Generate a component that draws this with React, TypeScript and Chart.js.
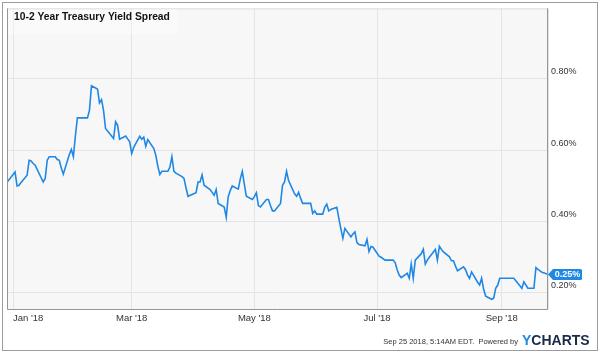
import { useEffect, useRef } from "react";
import { Chart, registerables } from "chart.js";
Chart.register(...registerables);

const dates = [
  "2017-12-29","2018-01-02","2018-01-03","2018-01-04","2018-01-05","2018-01-08","2018-01-09","2018-01-10","2018-01-11","2018-01-12",
  "2018-01-16","2018-01-17","2018-01-18","2018-01-19","2018-01-22","2018-01-23","2018-01-24","2018-01-25","2018-01-26","2018-01-29",
  "2018-01-30","2018-01-31","2018-02-01","2018-02-02","2018-02-05","2018-02-06","2018-02-07","2018-02-08","2018-02-09","2018-02-12",
  "2018-02-13","2018-02-14","2018-02-15","2018-02-16","2018-02-20","2018-02-21","2018-02-22","2018-02-23","2018-02-26","2018-02-27",
  "2018-02-28","2018-03-01","2018-03-02","2018-03-05","2018-03-06","2018-03-07","2018-03-08","2018-03-09","2018-03-12","2018-03-13",
  "2018-03-14","2018-03-15","2018-03-16","2018-03-19","2018-03-20","2018-03-21","2018-03-22","2018-03-23","2018-03-26","2018-03-27",
  "2018-03-28","2018-03-29","2018-04-02","2018-04-03","2018-04-04","2018-04-05","2018-04-06","2018-04-09","2018-04-10","2018-04-11",
  "2018-04-12","2018-04-13","2018-04-16","2018-04-17","2018-04-18","2018-04-19","2018-04-20","2018-04-23","2018-04-24","2018-04-25",
  "2018-04-26","2018-04-27","2018-04-30","2018-05-01","2018-05-02","2018-05-03","2018-05-04","2018-05-07","2018-05-08","2018-05-09",
  "2018-05-10","2018-05-11","2018-05-14","2018-05-15","2018-05-16","2018-05-17","2018-05-18","2018-05-21","2018-05-22","2018-05-23",
  "2018-05-24","2018-05-25","2018-05-29","2018-05-30","2018-05-31","2018-06-01","2018-06-04","2018-06-05","2018-06-06","2018-06-07",
  "2018-06-08","2018-06-11","2018-06-12","2018-06-13","2018-06-14","2018-06-15","2018-06-18","2018-06-19","2018-06-20","2018-06-21",
  "2018-06-22","2018-06-25","2018-06-26","2018-06-27","2018-06-28","2018-06-29","2018-07-02","2018-07-03","2018-07-05","2018-07-06",
  "2018-07-09","2018-07-10","2018-07-11","2018-07-12","2018-07-13","2018-07-16","2018-07-17","2018-07-18","2018-07-19","2018-07-20",
  "2018-07-23","2018-07-24","2018-07-25","2018-07-26","2018-07-27","2018-07-30","2018-07-31","2018-08-01","2018-08-02","2018-08-03",
  "2018-08-06","2018-08-07","2018-08-08","2018-08-09","2018-08-10","2018-08-13","2018-08-14","2018-08-15","2018-08-16","2018-08-17",
  "2018-08-20","2018-08-21","2018-08-22","2018-08-23","2018-08-24","2018-08-27","2018-08-28","2018-08-29","2018-08-30","2018-08-31",
  "2018-09-04","2018-09-05","2018-09-06","2018-09-07","2018-09-10","2018-09-11","2018-09-12","2018-09-13","2018-09-14","2018-09-17",
  "2018-09-18","2018-09-19","2018-09-20","2018-09-21","2018-09-24",
];

const values = [
  0.51, 0.539, 0.5, 0.502, 0.51, 0.53, 0.572, 0.57, 0.563, 0.558,
  0.511, 0.521, 0.572, 0.582, 0.582, 0.574, 0.572, 0.55, 0.533, 0.588,
  0.602, 0.582, 0.64, 0.691, 0.691, 0.691, 0.691, 0.712, 0.781, 0.772,
  0.733, 0.742, 0.712, 0.661, 0.633, 0.68, 0.67, 0.631, 0.64, 0.632,
  0.624, 0.591, 0.608, 0.639, 0.631, 0.637, 0.611, 0.63, 0.605, 0.586,
  0.555, 0.532, 0.541, 0.541, 0.553, 0.582, 0.541, 0.536, 0.526, 0.521,
  0.495, 0.471, 0.481, 0.511, 0.511, 0.531, 0.502, 0.49, 0.482, 0.474,
  0.49, 0.451, 0.441, 0.412, 0.47, 0.487, 0.5, 0.491, 0.52, 0.541,
  0.505, 0.471, 0.462, 0.47, 0.481, 0.445, 0.441, 0.462, 0.462, 0.445,
  0.43, 0.43, 0.451, 0.502, 0.511, 0.541, 0.515, 0.478, 0.471, 0.482,
  0.465, 0.451, 0.451, 0.423, 0.43, 0.421, 0.421, 0.44, 0.449, 0.43,
  0.434, 0.44, 0.409, 0.38, 0.353, 0.381, 0.357, 0.365, 0.371, 0.341,
  0.336, 0.332, 0.35, 0.316, 0.33, 0.328, 0.303, 0.3, 0.292, 0.292,
  0.292, 0.285, 0.265, 0.25, 0.243, 0.255, 0.241, 0.281, 0.241, 0.292,
  0.31, 0.322, 0.281, 0.292, 0.3, 0.322, 0.292, 0.331, 0.322, 0.315,
  0.301, 0.29, 0.29, 0.275, 0.262, 0.273, 0.265, 0.25, 0.241, 0.259,
  0.23, 0.222, 0.241, 0.21, 0.191, 0.182, 0.185, 0.213, 0.222, 0.241,
  0.241, 0.241, 0.241, 0.241, 0.22, 0.213, 0.231, 0.222, 0.213, 0.213,
  0.271, 0.266, 0.262, 0.258, 0.252,
];

const xTickDates = ["2018-01-01", "2018-03-01", "2018-05-01", "2018-07-01", "2018-09-01"];
const xTickLabels = ["Jan '18", "Mar '18", "May '18", "Jul '18", "Sep '18"];
const yTickValues = [0.2, 0.4, 0.6, 0.8];
const xMinDate = "2017-12-29";
const xMaxDate = "2018-09-24";
const yMin = 0.152;
const yMax = 0.998;
const titleText = "10-2 Year Treasury Yield Spread";
const footerText = "Sep 25 2018, 5:14AM EDT.  Powered by";

const DAY = 86400000;
const BASE = Date.parse("2018-01-01");
const dayOf = (s: string) => (Date.parse(s) - BASE) / DAY;

const FONT = '"Liberation Sans", Arial, Helvetica, sans-serif';
const LINE_COLOR = "#1f88e5";

export default function App() {
  const ref = useRef<HTMLCanvasElement | null>(null);

  useEffect(() => {
    if (!ref.current) return;
    const xMin = dayOf(xMinDate);
    const xMax = dayOf(xMaxDate);
    const tickDays = xTickDates.map(dayOf);

    const backdrop = {
      id: "backdrop",
      beforeDraw(chart: any) {
        const { ctx, chartArea: a, width, height } = chart;
        ctx.save();
        ctx.fillStyle = "#ffffff";
        ctx.fillRect(0, 0, width, height);
        ctx.strokeStyle = "#9c9c9c";
        ctx.lineWidth = 1;
        ctx.strokeRect(2.5, 2.5, width - 5, height - 5);
        ctx.fillStyle = "#f7f7f7";
        ctx.fillRect(a.left, a.top, a.right - a.left, a.bottom - a.top);
        ctx.restore();
      },
    };

    const overlay = {
      id: "overlay",
      afterDraw(chart: any) {
        const { ctx, chartArea: a } = chart;
        ctx.save();
        // frame
        ctx.lineWidth = 1;
        ctx.strokeStyle = "#dcdcdc";
        ctx.beginPath();
        ctx.moveTo(a.left, a.top + 0.5);
        ctx.lineTo(a.right, a.top + 0.5);
        ctx.stroke();
        ctx.strokeStyle = "#969696";
        ctx.beginPath();
        ctx.moveTo(a.left + 0.5, a.top);
        ctx.lineTo(a.left + 0.5, a.bottom - 0.5);
        ctx.lineTo(a.right - 0.5, a.bottom - 0.5);
        ctx.lineTo(a.right - 0.5, a.top);
        ctx.stroke();

        // title box + title
        ctx.fillStyle = "rgba(255,255,255,0.35)";
        ctx.fillRect(a.left + 1, a.top + 1, 170, 25);
        ctx.fillStyle = "#111111";
        ctx.font = `bold 10.3px ${FONT}`;
        ctx.textAlign = "left";
        ctx.textBaseline = "alphabetic";
        ctx.fillText(titleText, 14, 20);

        // last value tag
        const meta = chart.getDatasetMeta(0);
        const last = meta.data[meta.data.length - 1];
        const yc = Math.round(last.y) + 0.5;
        const tip = a.right;
        const h = 5.5;
        const right = 582;
        ctx.fillStyle = LINE_COLOR;
        ctx.beginPath();
        ctx.moveTo(tip, yc);
        ctx.lineTo(tip + 5, yc - h);
        ctx.lineTo(right - 1.5, yc - h);
        ctx.quadraticCurveTo(right, yc - h, right, yc - h + 1.5);
        ctx.lineTo(right, yc + h - 1.5);
        ctx.quadraticCurveTo(right, yc + h, right - 1.5, yc + h);
        ctx.lineTo(tip + 5, yc + h);
        ctx.closePath();
        ctx.fill();
        ctx.fillStyle = "#ffffff";
        ctx.font = `bold 9px ${FONT}`;
        ctx.textAlign = "center";
        ctx.textBaseline = "middle";
        ctx.fillText(values[values.length - 1].toFixed(2) + "%", (tip + 5 + right) / 2, yc + 0.5);

        // footer
        ctx.fillStyle = "#333333";
        ctx.font = `7.5px ${FONT}`;
        ctx.textAlign = "right";
        ctx.textBaseline = "alphabetic";
        ctx.fillText(footerText, 518, 344);
        ctx.textAlign = "left";
        ctx.font = `bold 14px ${FONT}`;
        ctx.fillStyle = "#1f88e5";
        ctx.fillText("Y", 522, 345);
        const yw = ctx.measureText("Y").width;
        ctx.fillStyle = "#1b2a4a";
        ctx.fillText("CHARTS", 522 + yw, 345);
        ctx.restore();
      },
    };

    const chart = new Chart(ref.current, {
      type: "line",
      data: {
        datasets: [
          {
            data: dates.map((d, i) => ({ x: dayOf(d), y: values[i] })),
            borderColor: LINE_COLOR,
            borderWidth: 1.6,
            pointRadius: 0,
            fill: false,
            tension: 0,
          },
        ],
      },
      options: {
        animation: false,
        responsive: false,
        devicePixelRatio: 1,
        layout: { padding: { left: 7, top: 8, right: 0, bottom: 0 } },
        plugins: { legend: { display: false }, tooltip: { enabled: false } },
        scales: {
          x: {
            type: "linear",
            min: xMin,
            max: xMax,
            afterBuildTicks: (axis: any) => {
              axis.ticks = [...tickDays.map((v) => ({ value: v })), { value: xMax }];
            },
            afterFit: (scale: any) => {
              scale.height = 43;
            },
            grid: { color: "#e4e4e4", drawTicks: false },
            border: { display: false },
            ticks: {
              autoSkip: false,
              maxRotation: 0,
              align: "inner",
              padding: 3,
              color: "#333333",
              font: { family: FONT, size: 9.5 },
              callback: (v: any) => {
                const i = tickDays.indexOf(Number(v));
                return i >= 0 ? xTickLabels[i] : "";
              },
            },
          },
          y: {
            type: "linear",
            position: "right",
            min: yMin,
            max: yMax,
            afterBuildTicks: (axis: any) => {
              axis.ticks = yTickValues.map((v) => ({ value: v }));
            },
            afterFit: (scale: any) => {
              scale.width = 52;
            },
            grid: { color: "#e4e4e4", drawTicks: false },
            border: { display: false },
            ticks: {
              padding: 3,
              labelOffset: -7,
              color: "#333333",
              font: { family: FONT, size: 9 },
              callback: (v: any) => Number(v).toFixed(2) + "%",
            },
          },
        },
      },
      plugins: [backdrop, overlay],
    } as any);

    return () => chart.destroy();
  }, []);

  return (
    <div style={{ position: "absolute", left: 0, top: 0, width: 600, height: 353 }}>
      <canvas ref={ref} width={600} height={353} />
    </div>
  );
}
